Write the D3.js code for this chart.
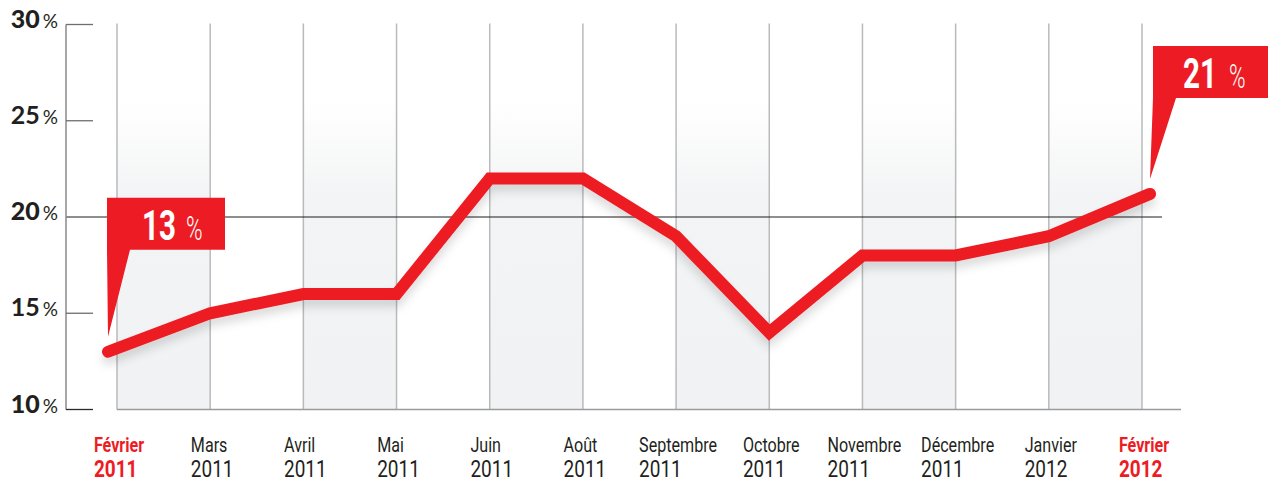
<!DOCTYPE html>
<meta charset="utf-8">
<script src="https://d3js.org/d3.v7.min.js"></script>
<style>
  body { margin: 0; background: #fff; }
</style>
<div id="my_dataviz"></div>
<script>

    // data
    let months = ["Février", "Mars", "Avril", "Mai", "Juin", "Août", "Septembre",
        "Octobre", "Novembre", "Décembre", "Janvier", "Février"];
    let years = ["2011", "2011", "2011", "2011", "2011", "2011", "2011",
        "2011", "2011", "2011", "2012", "2012"];
    let values = [13, 15, 16, 16, 22, 22, 19, 14, 18, 18, 19, 21.2];
    let yTicks = [10, 15, 20, 25, 30];
    let callouts = [{ i: 0, big: "13" }, { i: 11, big: "21" }];

    let width = 1268, height = 484;
    let red = "#ed1c24";
    let condFont = "Roboto, 'Noto Sans', sans-serif";

    let svg = d3.select("#my_dataviz")
        .append("svg")
        .attr("width", width)
        .attr("height", height);

    let defs = svg.append("defs");
    let grad = defs.append("linearGradient")
        .attr("id", "band").attr("x1", 0).attr("y1", 0).attr("x2", 0).attr("y2", 1);
    grad.append("stop").attr("offset", "0%").attr("stop-color", "#ffffff");
    grad.append("stop").attr("offset", "20%").attr("stop-color", "#ffffff");
    grad.append("stop").attr("offset", "45%").attr("stop-color", "#f3f4f5");
    grad.append("stop").attr("offset", "100%").attr("stop-color", "#f1f2f3");

    let shadow = defs.append("filter").attr("id", "shadow")
        .attr("x", "-10%").attr("y", "-30%").attr("width", "120%").attr("height", "160%");
    shadow.append("feDropShadow")
        .attr("dx", 0).attr("dy", 7).attr("stdDeviation", 5)
        .attr("flood-color", "#000").attr("flood-opacity", 0.14);

    // scales
    let x = d3.scalePoint()
        .domain(d3.range(months.length))
        .range([117, 1142]);

    let y = d3.scaleLinear()
        .domain([10, 30])
        .range([409.5, 24.5]);

    let axisX = 66;

    // shaded bands between every other pair of gridlines
    svg.append("g")
        .selectAll("rect")
        .data(d3.range(0, months.length - 1, 2))
        .enter()
        .append("rect")
        .attr("x", d => x(d))
        .attr("width", d => x(d + 1) - x(d))
        .attr("y", y(30))
        .attr("height", y(10) - y(30))
        .attr("fill", "url(#band)");

    // vertical gridlines
    svg.append("g")
        .selectAll("line")
        .data(d3.range(months.length))
        .enter()
        .append("line")
        .attr("x1", d => x(d)).attr("x2", d => x(d))
        .attr("y1", y(30) - 1).attr("y2", y(10))
        .attr("stroke", "#b9babc")
        .attr("stroke-width", 1.5);

    // 20% reference line
    svg.append("line")
        .attr("x1", axisX).attr("x2", 1162)
        .attr("y1", y(20)).attr("y2", y(20))
        .attr("stroke", "#1d1d1b").attr("stroke-width", 1);

    // baseline
    svg.append("line")
        .attr("x1", x(0)).attr("x2", 1181)
        .attr("y1", y(10)).attr("y2", y(10))
        .attr("stroke", "#9a9b9d").attr("stroke-width", 1.5);

    // y axis
    svg.append("line")
        .attr("x1", axisX).attr("x2", axisX)
        .attr("y1", y(30)).attr("y2", y(10))
        .attr("stroke", "#8a8a8c").attr("stroke-width", 1.5);

    let yt = svg.append("g")
        .selectAll("g")
        .data(yTicks)
        .enter()
        .append("g")
        .attr("transform", d => "translate(0," + y(d) + ")");

    yt.filter(d => d != 20).append("line")
        .attr("x1", axisX).attr("x2", 93)
        .attr("stroke", d => d % 10 == 0 && d != 30 ? "#2b2a29" : "#6d6e70")
        .attr("stroke-width", 1.3);

    let ytext = yt.append("text")
        .attr("x", 58)
        .attr("y", 3)
        .attr("text-anchor", "end")
        .attr("fill", "#231f20")
        .style("font-family", "Lato, 'Noto Sans', sans-serif");
    ytext.append("tspan")
        .style("font-size", "25px")
        .style("font-weight", d => d % 10 == 0 ? 900 : 700)
        .text(d => d);
    ytext.append("tspan")
        .attr("dx", 3)
        .style("font-size", "19px")
        .style("font-weight", 400)
        .text("%");

    // x labels (condensed by a horizontal squeeze)
    let xl = svg.append("g")
        .selectAll("g")
        .data(d3.range(months.length))
        .enter()
        .append("g")
        .style("font-family", condFont)
        .attr("fill", (d, i) => (i == 0 || i == months.length - 1) ? red : "#231f20")
        .style("font-weight", (d, i) => (i == 0 || i == months.length - 1) ? 700 : 400);

    let xin = xl.append("g");
    xin.append("text")
        .attr("class", "m")
        .attr("y", 452)
        .style("font-size", "19.5px")
        .text(d => months[d]);
    xin.append("text")
        .attr("class", "yr")
        .attr("y", 477)
        .style("font-size", "23px")
        .text(d => years[d]);

    // squeeze so "Septembre" is ~78px wide like the reference
    let sep = xl.filter(d => d == 6).select(".m").node().getComputedTextLength();
    let k = 78 / sep;
    xin.attr("transform", "scale(" + k + ",1)");

    xl.each(function (d) {
        let g = d3.select(this);
        let w = k * Math.max(g.select(".m").node().getComputedTextLength(),
            g.select(".yr").node().getComputedTextLength());
        g.attr("transform", "translate(" + (x(d) - w / 2 + 2) + ",0)");
    });

    // end points sit slightly outside the first/last gridline
    let px = i => x(i) + (i == 0 ? -9 : i == months.length - 1 ? 8 : 0);

    let line = d3.line()
        .x((d, i) => px(i))
        .y(d => y(d));

    svg.append("path")
        .datum(values)
        .attr("d", line)
        .attr("fill", "none")
        .attr("stroke", red)
        .attr("stroke-width", 12)
        .attr("stroke-linecap", "round")
        .attr("stroke-linejoin", "miter")
        .attr("filter", "url(#shadow)");

    // callouts
    let boxLeft = d => d.i == 0 ? px(d.i) - 1 : px(d.i) + 3;
    let boxBottom = d => d.i == 0 ? y(values[d.i]) - 102 : y(values[d.i]) - 96;

    let co = svg.append("g")
        .selectAll("g")
        .data(callouts)
        .enter()
        .append("g");

    co.append("path")
        .attr("fill", red)
        .attr("d", d => {
            let cx = px(d.i), cy = y(values[d.i]);
            let bl = boxLeft(d), bb = boxBottom(d);
            let bt = bb - 52;
            return "M" + bl + "," + bt + "H" + (bl + 118) + "V" + bb + "H" + (bl + 23)
                + "L" + cx + "," + (cy - 15) + "L" + bl + "," + bb + "Z";
        });

    let big = co.append("g")
        .attr("transform", d => "translate(" + (boxLeft(d) + (d.i == 0 ? 35 : 30)) + "," + (boxBottom(d) - 10) + ")")
        .append("text")
        .attr("fill", "#fff")
        .style("font-family", condFont)
        .style("font-size", "42px")
        .style("font-weight", 700)
        .text(d => d.big);
    big.attr("transform", function () {
        return "scale(" + (34 / this.getComputedTextLength()) + ",1)";
    });

    co.append("g")
        .attr("transform", d => "translate(" + (boxLeft(d) + (d.i == 0 ? 79 : 76)) + "," + (boxBottom(d) - 10) + ")")
        .append("text")
        .attr("fill", "#fff")
        .style("font-family", condFont)
        .style("font-size", "34px")
        .style("font-weight", 300)
        .attr("transform", "scale(0.66,1)")
        .text("%");

</script>
